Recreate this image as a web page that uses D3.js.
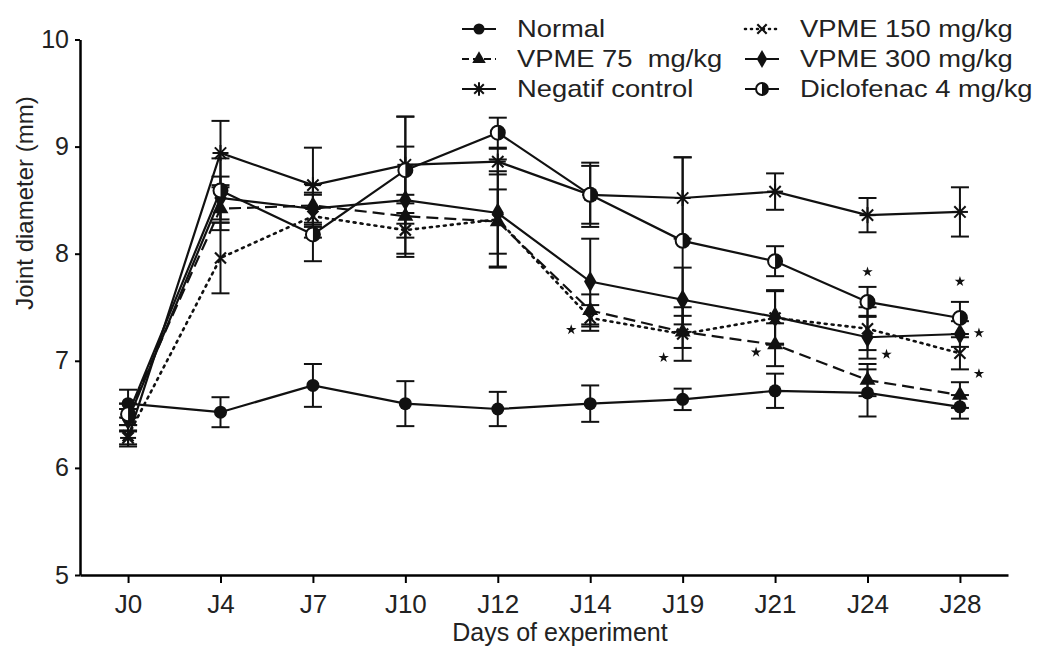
<!DOCTYPE html>
<html>
<head>
<meta charset="utf-8">
<script src="https://cdn.jsdelivr.net/npm/d3@7"></script>
<style>
  body { margin: 0; background: #fff; }
  svg { display: block; font-family: "Liberation Sans", Arial, sans-serif; }
</style>
</head>
<body>
<div id="chart"></div>
<script>
// ---- data ----
var days = ['J0', 'J4', 'J7', 'J10', 'J12', 'J14', 'J19', 'J21', 'J24', 'J28'];
var yTicks = [5, 6, 7, 8, 9, 10];

var normal      = [6.60, 6.52, 6.77, 6.60, 6.55, 6.60, 6.64, 6.72, 6.70, 6.57];
var normalErr   = [0.13, 0.14, 0.20, 0.21, 0.16, 0.17, 0.10, 0.16, 0.22, 0.11];
var vpme75      = [6.50, 8.42, 8.45, 8.35, 8.30, 7.47, 7.27, 7.15, 6.82, 6.68];
var vpme75Err   = [0.10, 0.20, 0.20, 0.20, 0.30, 0.15, 0.15, 0.20, 0.15, 0.12];
var negatif     = [6.28, 8.94, 8.64, 8.83, 8.86, 8.55, 8.52, 8.58, 8.36, 8.39];
var negatifErr  = [0.06, 0.30, 0.35, 0.45, 0.12, 0.30, 0.38, 0.17, 0.16, 0.23];
var vpme150     = [6.30, 7.96, 8.35, 8.22, 8.32, 7.40, 7.25, 7.40, 7.30, 7.07];
var vpme150Err  = [0.10, 0.33, 0.20, 0.25, 0.45, 0.12, 0.25, 0.25, 0.20, 0.15];
var vpme300     = [6.45, 8.52, 8.42, 8.50, 8.38, 7.74, 7.57, 7.41, 7.22, 7.25];
var vpme300Err  = [0.10, 0.20, 0.15, 0.50, 0.50, 0.40, 0.30, 0.25, 0.20, 0.12];
var diclo       = [6.50, 8.59, 8.18, 8.78, 9.13, 8.55, 8.12, 7.93, 7.55, 7.40];
var dicloErr    = [0.10, 0.30, 0.25, 0.50, 0.14, 0.27, 0.78, 0.14, 0.14, 0.15];

// significance stars: day, value, side of the point
var starDays   = ['J14', 'J19', 'J21', 'J24', 'J24', 'J28', 'J28', 'J28'];
var starValues = [7.29, 7.03, 7.08, 7.83, 7.06, 7.74, 7.26, 6.88];
var starSides  = ['left', 'left', 'left', 'mid', 'right', 'mid', 'right', 'right'];

var series = [
  {name: 'Normal', values: normal, err: normalErr, marker: 'circle', dash: null},
  {name: 'VPME 75  mg/kg', values: vpme75, err: vpme75Err, marker: 'triangle', dash: '12,6'},
  {name: 'Negatif control', values: negatif, err: negatifErr, marker: 'asterisk', dash: null},
  {name: 'VPME 150 mg/kg', values: vpme150, err: vpme150Err, marker: 'cross', dash: '2,5'},
  {name: 'VPME 300 mg/kg', values: vpme300, err: vpme300Err, marker: 'diamond', dash: null},
  {name: 'Diclofenac 4 mg/kg', values: diclo, err: dicloErr, marker: 'half', dash: null}
];

// ---- svg ----
var W = 1045, H = 649;
var svg = d3.select('#chart').append('svg')
  .attr('width', W).attr('height', H)
  .style('background', '#fff');

var x = d3.scalePoint().domain(days).range([80, 1008]).padding(0.52);
var y = d3.scaleLinear().domain([5, 10]).range([575, 39.5]);

// axes
var yAxis = d3.axisLeft(y).tickValues(yTicks).tickFormat(d3.format('d'))
  .tickSize(5).tickPadding(6).tickSizeOuter(0);
var gy = svg.append('g').attr('transform', 'translate(80,0)').call(yAxis);
gy.select('.domain').attr('stroke-width', 2.5);
gy.selectAll('.tick line').attr('stroke-width', 2);
gy.selectAll('.tick text').attr('font-size', 25).attr('fill', '#222')
  .attr('font-family', '"Liberation Sans", Arial, sans-serif');

var xAxis = d3.axisBottom(x).tickSize(8).tickPadding(12).tickSizeOuter(0);
var gx = svg.append('g').attr('transform', 'translate(0,575)').call(xAxis);
gx.select('.domain').attr('stroke-width', 2.5);
gx.selectAll('.tick line').attr('stroke-width', 2);
gx.selectAll('.tick text').attr('font-size', 26).attr('fill', '#222')
  .attr('font-family', '"Liberation Sans", Arial, sans-serif');

// axis titles
svg.append('text')
  .attr('transform', 'translate(33,203) rotate(-90)')
  .attr('text-anchor', 'middle')
  .attr('font-size', 24).attr('fill', '#222')
  .text('Joint diameter (mm)');

svg.append('text')
  .attr('x', 560).attr('y', 641)
  .attr('text-anchor', 'middle')
  .attr('font-size', 25).attr('fill', '#222')
  .text('Days of experiment');

// ---- markers ----
function drawMarker(g, type, s) {
  // s = scale of the marker
  if (type === 'circle') {
    g.append('circle').attr('r', 6.5 * s).attr('fill', '#111');
  } else if (type === 'triangle') {
    g.append('path').attr('d', d3.symbol().type(d3.symbolTriangle).size(110 * s * s)()).attr('fill', '#111');
  } else if (type === 'diamond') {
    g.append('path').attr('d', d3.symbol().type(d3.symbolDiamond).size(130 * s * s)()).attr('fill', '#111');
  } else if (type === 'asterisk') {
    var r = 8 * s;
    [0, 45, 90, 135].forEach(function(a) {
      var rad = a * Math.PI / 180;
      g.append('line')
        .attr('x1', -r * Math.cos(rad)).attr('y1', -r * Math.sin(rad))
        .attr('x2', r * Math.cos(rad)).attr('y2', r * Math.sin(rad))
        .attr('stroke', '#111').attr('stroke-width', 2);
    });
  } else if (type === 'cross') {
    var c = 5.5 * s;
    g.append('path').attr('d', 'M' + (-c) + ',' + (-c) + 'L' + c + ',' + c + 'M' + (-c) + ',' + c + 'L' + c + ',' + (-c))
      .attr('stroke', '#111').attr('stroke-width', 2.2);
  } else if (type === 'half') {
    var rr = 7 * s;
    g.append('circle').attr('r', rr).attr('fill', '#fff').attr('stroke', '#111').attr('stroke-width', 2);
    g.append('path').attr('d', 'M0,' + (-rr) + 'A' + rr + ',' + rr + ' 0 0,1 0,' + rr + 'Z').attr('fill', '#111');
  }
}

// ---- error bars, lines, points ----
var line = d3.line()
  .x(function(d, i) { return x(days[i]); })
  .y(function(d) { return y(d); });

var cap = 9;
series.forEach(function(s) {
  var g = svg.append('g');
  s.values.forEach(function(v, i) {
    var cx = x(days[i]);
    var y1 = y(v + s.err[i]), y2 = y(v - s.err[i]);
    g.append('line').attr('x1', cx).attr('x2', cx).attr('y1', y1).attr('y2', y2)
      .attr('stroke', '#111').attr('stroke-width', 2);
    [y1, y2].forEach(function(yy) {
      g.append('line').attr('x1', cx - cap).attr('x2', cx + cap).attr('y1', yy).attr('y2', yy)
        .attr('stroke', '#111').attr('stroke-width', 2);
    });
  });
});

series.forEach(function(s) {
  svg.append('path')
    .datum(s.values)
    .attr('d', line)
    .attr('fill', 'none')
    .attr('stroke', '#111')
    .attr('stroke-width', s.dash === '2,5' ? 2.6 : 2.2)
    .attr('stroke-linecap', s.dash === '2,5' ? 'round' : 'butt')
    .attr('stroke-dasharray', s.dash);
});

series.forEach(function(s) {
  s.values.forEach(function(v, i) {
    var g = svg.append('g').attr('transform', 'translate(' + x(days[i]) + ',' + y(v) + ')');
    drawMarker(g, s.marker, 1);
  });
});

// significance stars
var star = d3.symbol().type(d3.symbolStar).size(34);
starDays.forEach(function(d, i) {
  var off = starSides[i] === 'left' ? -19 : (starSides[i] === 'right' ? 19 : 0);
  svg.append('path')
    .attr('d', star())
    .attr('transform', 'translate(' + (x(d) + off) + ',' + y(starValues[i]) + ')')
    .attr('fill', '#111');
});

// ---- legend ----
var legendCols = [462, 745];
var legendRows = [29, 59, 89];
series.forEach(function(s, i) {
  var col = i < 3 ? 0 : 1;
  var row = i % 3;
  var lx = legendCols[col], ly = legendRows[row];
  var g = svg.append('g').attr('transform', 'translate(' + lx + ',' + ly + ')');
  g.append('line').attr('x1', 0).attr('x2', 34).attr('y1', 0).attr('y2', 0)
    .attr('stroke', '#111')
    .attr('stroke-width', s.dash === '2,5' ? 2.6 : 2.2)
    .attr('stroke-linecap', s.dash === '2,5' ? 'round' : 'butt')
    .attr('stroke-dasharray', s.dash === '2,5' ? '1,5' : (s.dash ? '7,4' : null));
  var m = g.append('g').attr('transform', 'translate(17,0)');
  drawMarker(m, s.marker, 0.85);
  g.append('text')
    .attr('transform', 'translate(55,8) scale(1.14,1)')
    .attr('font-size', 24).attr('fill', '#222')
    .style('white-space', 'pre')
    .text(s.name);
});
</script>
</body>
</html>
